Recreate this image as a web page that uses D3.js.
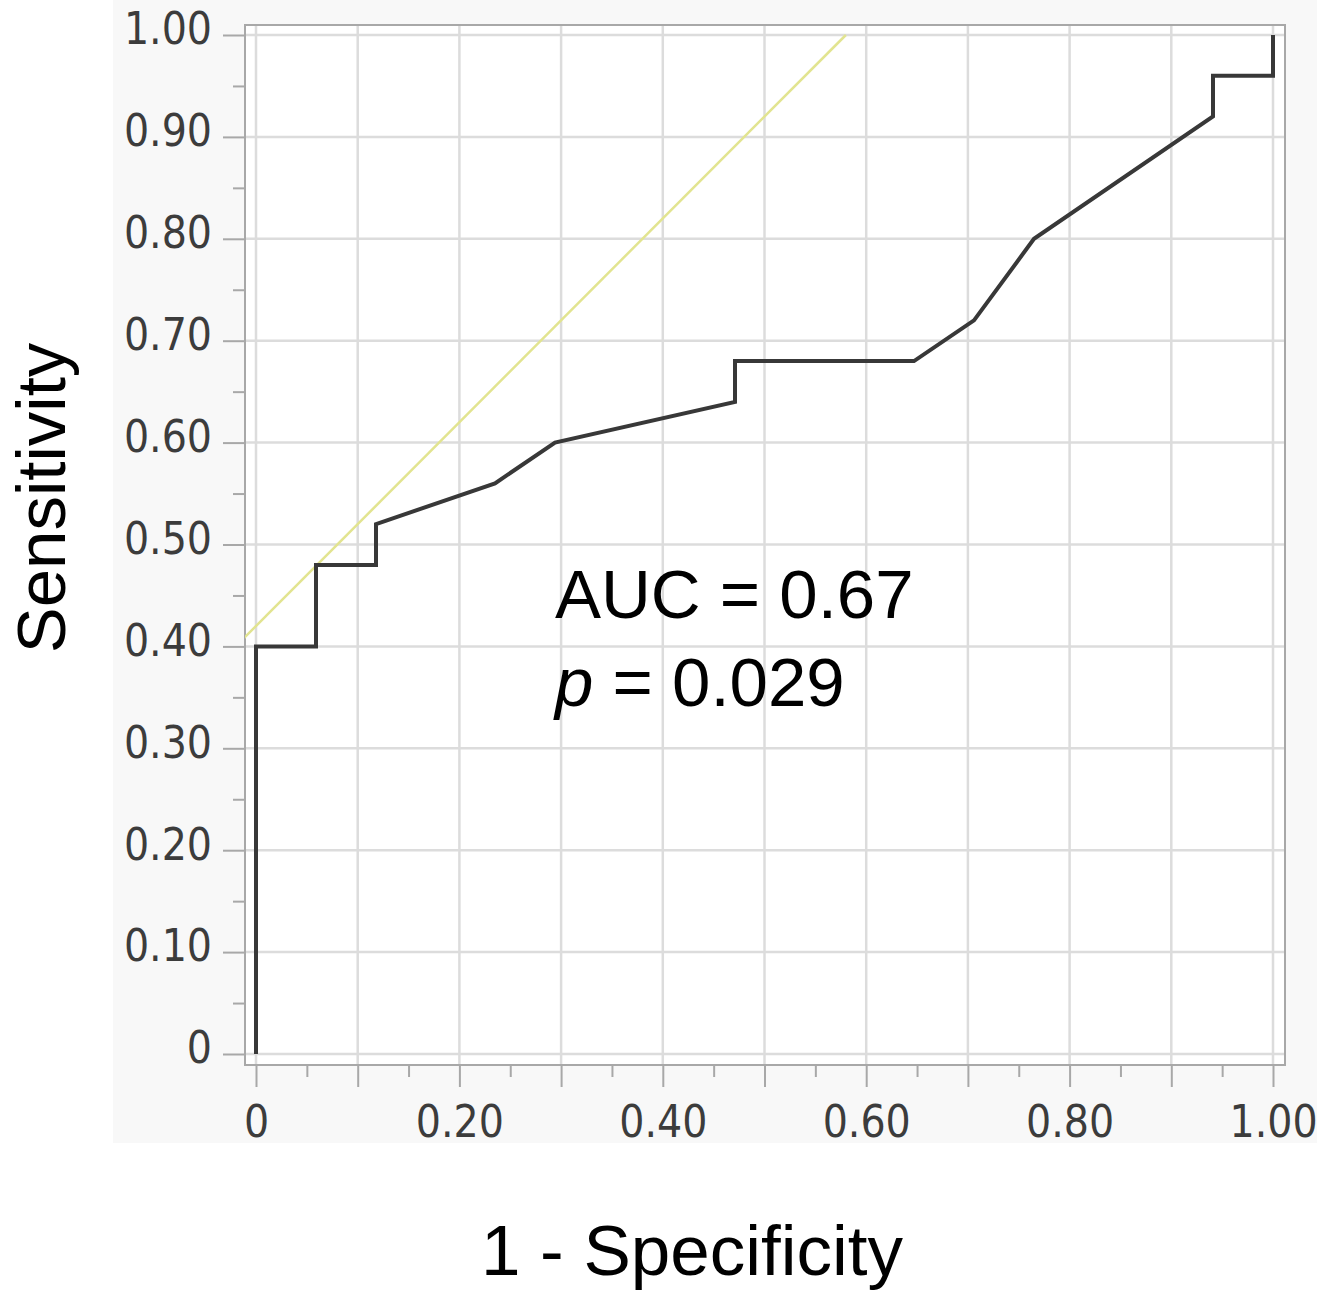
<!DOCTYPE html>
<html>
<head>
<meta charset="utf-8">
<script src="https://cdn.jsdelivr.net/npm/d3@7"></script>
<style>
  body { margin: 0; background: #ffffff; }
  svg { display: block; }
</style>
</head>
<body>
<div id="chart"></div>
<script>
// ROC curve points (1 - specificity, sensitivity)
const fpr = [0, 0, 0.059, 0.059, 0.118, 0.118, 0.235, 0.294, 0.471, 0.471, 0.647, 0.706, 0.765, 0.941, 0.941, 1, 1];
const tpr = [0, 0.40, 0.40, 0.48, 0.48, 0.52, 0.56, 0.60, 0.64, 0.68, 0.68, 0.72, 0.80, 0.92, 0.96, 0.96, 1.00];

// tangent line at the cut-off point
const tangentX = [-0.02, 0.58];
const tangentY = [0.40, 1.00];

// ticks
const majorTicks = [0, 0.1, 0.2, 0.3, 0.4, 0.5, 0.6, 0.7, 0.8, 0.9, 1.0];
const minorTicks = [0.05, 0.15, 0.25, 0.35, 0.45, 0.55, 0.65, 0.75, 0.85, 0.95];
const yTickLabels = ["0", "0.10", "0.20", "0.30", "0.40", "0.50", "0.60", "0.70", "0.80", "0.90", "1.00"];
const xTickLabels = ["0", "", "0.20", "", "0.40", "", "0.60", "", "0.80", "", "1.00"];

const width = 1337;
const height = 1296;

let svg = d3.select("#chart")
    .append("svg")
    .attr("width", width)
    .attr("height", height);

// frame around the plot
const frame = { left: 245, top: 25, right: 1285, bottom: 1065 };

const x = d3.scaleLinear().domain([0, 1]).range([256, 1273]);
const y = d3.scaleLinear().domain([0, 1]).range([1054, 35]);

// light grey panel behind the graph
svg.append("rect")
    .attr("x", 113).attr("y", 0)
    .attr("width", 1204).attr("height", 1143)
    .attr("fill", "#f8f8f8");

svg.append("rect")
    .attr("x", frame.left).attr("y", frame.top)
    .attr("width", frame.right - frame.left)
    .attr("height", frame.bottom - frame.top)
    .attr("fill", "#ffffff");

svg.append("clipPath").attr("id", "plotclip")
    .append("rect")
    .attr("x", frame.left).attr("y", frame.top)
    .attr("width", frame.right - frame.left)
    .attr("height", frame.bottom - frame.top);

//Gridlines
svg.append("g")
    .selectAll("line")
    .data(majorTicks)
    .enter()
    .append("line")
    .attr("x1", frame.left).attr("x2", frame.right)
    .attr("y1", d => y(d)).attr("y2", d => y(d))
    .attr("stroke", "#dcdcdc")
    .attr("stroke-width", 2.5);

svg.append("g")
    .selectAll("line")
    .data(majorTicks)
    .enter()
    .append("line")
    .attr("y1", frame.top).attr("y2", frame.bottom)
    .attr("x1", d => x(d)).attr("x2", d => x(d))
    .attr("stroke", "#dcdcdc")
    .attr("stroke-width", 2.5);

// frame border
svg.append("rect")
    .attr("x", frame.left).attr("y", frame.top)
    .attr("width", frame.right - frame.left)
    .attr("height", frame.bottom - frame.top)
    .attr("fill", "none")
    .attr("stroke", "#a8a8a8")
    .attr("stroke-width", 2);

//Axes
const tickFont = "'DejaVu Sans Condensed', 'DejaVu Sans', sans-serif";

const yAxis = svg.append("g")
    .attr("transform", `translate(${frame.left},0)`)
    .call(d3.axisLeft(y)
        .tickValues(majorTicks)
        .tickSize(22)
        .tickPadding(11)
        .tickFormat((d, i) => yTickLabels[i]));

const yMinor = svg.append("g")
    .attr("transform", `translate(${frame.left},0)`)
    .call(d3.axisLeft(y).tickValues(minorTicks).tickSize(12).tickFormat(""));

const xAxis = svg.append("g")
    .attr("transform", `translate(0,${frame.bottom})`)
    .call(d3.axisBottom(x)
        .tickValues(majorTicks)
        .tickSize(22)
        .tickPadding(19)
        .tickFormat((d, i) => xTickLabels[i]));

const xMinor = svg.append("g")
    .attr("transform", `translate(0,${frame.bottom})`)
    .call(d3.axisBottom(x).tickValues(minorTicks).tickSize(12).tickFormat(""));

[yAxis, yMinor, xAxis, xMinor].forEach(function (g) {
    g.select(".domain").remove();
    g.selectAll(".tick line").attr("stroke", "#a8a8a8").attr("stroke-width", 2);
    g.selectAll("text")
        .attr("font-family", tickFont)
        .attr("font-size", 44)
        .attr("fill", "#3c3c3c");
});
yAxis.selectAll("text").attr("dy", "0.2em");

// tangent line
const lineGen = d3.line().x(d => x(d[0])).y(d => y(d[1]));

svg.append("path")
    .datum(d3.zip(tangentX, tangentY))
    .attr("clip-path", "url(#plotclip)")
    .attr("d", lineGen)
    .attr("fill", "none")
    .attr("stroke", "#e2e490")
    .attr("stroke-width", 2.5);

// ROC curve
svg.append("path")
    .datum(d3.zip(fpr, tpr))
    .attr("d", lineGen)
    .attr("fill", "none")
    .attr("stroke", "#383838")
    .attr("stroke-width", 4)
    .attr("stroke-linejoin", "miter");

//Axis titles
const titleFont = "'Liberation Sans', Arial, sans-serif";

svg.append("text")
    .attr("transform", "translate(65,498) rotate(-90)")
    .attr("text-anchor", "middle")
    .attr("font-family", titleFont)
    .attr("font-size", 69)
    .attr("fill", "#000")
    .text("Sensitivity");

svg.append("text")
    .attr("x", 692).attr("y", 1275)
    .attr("text-anchor", "middle")
    .attr("font-family", titleFont)
    .attr("font-size", 71)
    .attr("fill", "#000")
    .text("1 - Specificity");

// AUC annotation
svg.append("text")
    .attr("x", 555).attr("y", 618)
    .attr("font-family", titleFont)
    .attr("font-size", 69)
    .attr("fill", "#000")
    .text("AUC = 0.67");

const pText = svg.append("text")
    .attr("x", 555).attr("y", 706)
    .attr("font-family", titleFont)
    .attr("font-size", 69)
    .attr("fill", "#000");
pText.append("tspan").attr("font-style", "italic").text("p");
pText.append("tspan").text(" = 0.029");
</script>
</body>
</html>
